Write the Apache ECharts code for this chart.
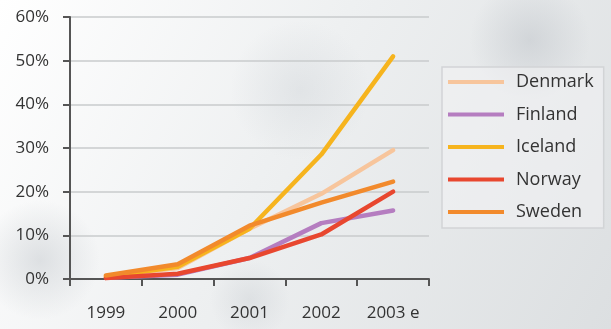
<!DOCTYPE html>
<html>
<head>
<meta charset="utf-8">
<style>
  html, body { margin: 0; padding: 0; background: #fff; }
  #chart { width: 611px; height: 329px; }
</style>
<script src="https://cdn.jsdelivr.net/npm/echarts@6/dist/echarts.min.js"></script>
</head>
<body>
<div id="chart"></div>
<script>
// Years on the category axis (last one is an estimate)
const years = ['1999', '2000', '2001', '2002', '2003 e'];

// Share per country, percent
const denmark = [0.6, 2.5, 11.5, 19.5, 29.5];
const finland = [0.3, 1.0, 4.8, 12.8, 15.7];
const iceland = [0.5, 2.8, 11.5, 28.5, 51.0];
const norway  = [0.2, 1.2, 4.8, 10.2, 20.0];
const sweden  = [0.8, 3.4, 12.2, 17.5, 22.3];

const yTicks = { min: 0, max: 60, step: 10 };

const countries = [
  { name: 'Denmark', data: denmark, color: '#f7c59c' },
  { name: 'Finland', data: finland, color: '#b57dc0' },
  { name: 'Iceland', data: iceland, color: '#f6b41e' },
  { name: 'Norway',  data: norway,  color: '#e8472f' },
  { name: 'Sweden',  data: sweden,  color: '#f28a2c' }
];

const FONT = '"Open Sans", "Noto Sans", sans-serif';
// Legend key: a thick bar across the middle of a 56x15 box
const KEY_ICON = 'path://M0,0M0,5.5L56,5.5L56,9.5L0,9.5ZM56,15';

const chart = echarts.init(document.getElementById('chart'), null, { renderer: 'canvas' });

chart.setOption({
  animation: false,
  backgroundColor: {
    type: 'linear', x: 0, y: 0, x2: 1, y2: 1,
    colorStops: [
      { offset: 0, color: '#ffffff' },
      { offset: 0.45, color: '#eef0f1' },
      { offset: 1, color: '#dcdfe1' }
    ]
  },
  graphic: [
    // soft hazy patches in the backdrop
    { type: 'ellipse', shape: { cx: 40, cy: 260, rx: 60, ry: 90 }, silent: true, z: -10,
      style: { fill: { type: 'radial', x: 0.5, y: 0.5, r: 0.5,
        colorStops: [{ offset: 0, color: 'rgba(190,195,200,0.45)' }, { offset: 1, color: 'rgba(190,195,200,0)' }] } } },
    { type: 'ellipse', shape: { cx: 300, cy: 90, rx: 140, ry: 70 }, silent: true, z: -10,
      style: { fill: { type: 'radial', x: 0.5, y: 0.5, r: 0.5,
        colorStops: [{ offset: 0, color: 'rgba(200,205,210,0.35)' }, { offset: 1, color: 'rgba(200,205,210,0)' }] } } },
    { type: 'ellipse', shape: { cx: 530, cy: 40, rx: 110, ry: 60 }, silent: true, z: -10,
      style: { fill: { type: 'radial', x: 0.5, y: 0.5, r: 0.5,
        colorStops: [{ offset: 0, color: 'rgba(185,190,196,0.45)' }, { offset: 1, color: 'rgba(185,190,196,0)' }] } } },
    { type: 'ellipse', shape: { cx: 250, cy: 300, rx: 200, ry: 40 }, silent: true, z: -10,
      style: { fill: { type: 'radial', x: 0.5, y: 0.5, r: 0.5,
        colorStops: [{ offset: 0, color: 'rgba(195,200,205,0.35)' }, { offset: 1, color: 'rgba(195,200,205,0)' }] } } }
  ],
  grid: { left: 70, top: 17, right: 182, bottom: 50, containLabel: false },
  legend: {
    orient: 'vertical',
    left: 442, top: 67,
    padding: [6, 10, 7, 6],
    itemWidth: 56, itemHeight: 15, itemGap: 14.5,
    backgroundColor: 'rgba(242,243,244,0.55)',
    borderColor: '#d2d4d6', borderWidth: 1.5,
    textStyle: { fontFamily: FONT, fontSize: 18, color: '#333', padding: [0, 0, 0, 7] },
    data: countries.map(c => ({ name: c.name, icon: KEY_ICON, itemStyle: { color: c.color } }))
  },
  xAxis: {
    type: 'category',
    data: years,
    boundaryGap: true,
    axisLine: { lineStyle: { color: '#555', width: 2 } },
    axisTick: { show: true, length: 7, lineStyle: { color: '#555', width: 2 } },
    axisLabel: { fontFamily: FONT, fontSize: 17, color: '#333', margin: 26 },
    splitLine: { show: false }
  },
  yAxis: {
    type: 'value',
    min: yTicks.min, max: yTicks.max, interval: yTicks.step,
    axisLine: { show: true, lineStyle: { color: '#555', width: 2 } },
    axisTick: { show: true, length: 7, lineStyle: { color: '#555', width: 2 } },
    axisLabel: { fontFamily: FONT, fontSize: 17, color: '#333', margin: 21, formatter: '{value}%' },
    splitLine: { show: true, lineStyle: { color: '#c9cbcd', width: 1.5 } }
  },
  series: countries.map(c => ({
    name: c.name,
    type: 'line',
    data: c.data,
    symbol: 'none',
    color: c.color,
    lineStyle: { color: c.color, width: 4.5, cap: 'round', join: 'round' }
  }))
});
</script>
</body>
</html>
